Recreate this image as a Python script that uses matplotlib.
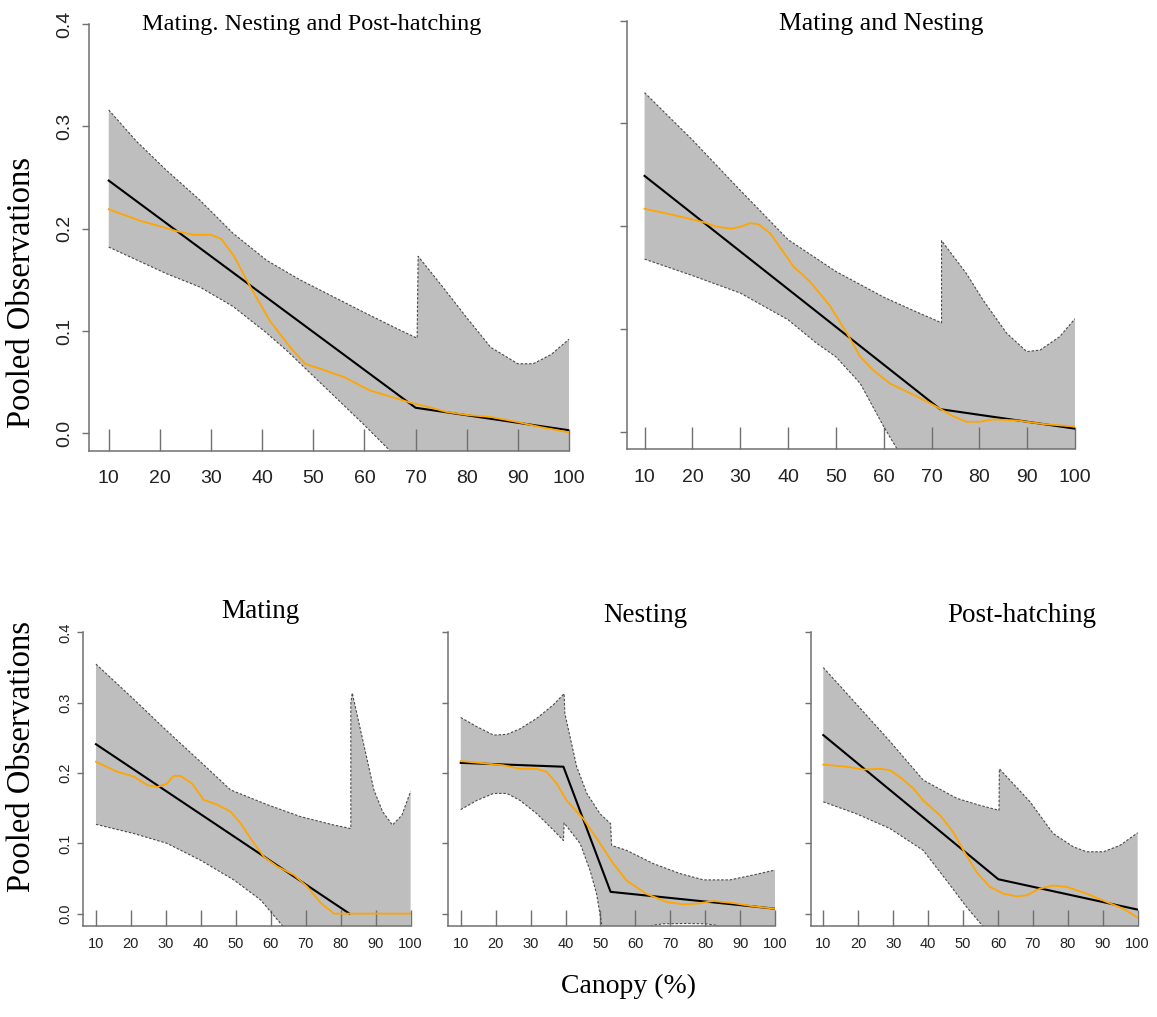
import numpy as np
import matplotlib
matplotlib.use("Agg")
import matplotlib.pyplot as plt
from matplotlib.ticker import FormatStrFormatter


# ---- Mating. Nesting and Post-hatching (top left)
mnp_fit_x = [10, 70, 100]
mnp_fit_y = [0.247, 0.025, 0.003]
mnp_smooth_x = [10, 16, 23, 26.5, 30, 32, 34.4, 37.6, 41.5, 45.5, 48.4, 52, 56, 61, 65, 69, 71.6, 76, 80, 84.7, 90, 94.5, 100]
mnp_smooth_y = [0.219, 0.208, 0.198, 0.194, 0.194, 0.190, 0.174, 0.144, 0.110, 0.084, 0.068, 0.062, 0.055, 0.042, 0.036, 0.030, 0.027, 0.021, 0.018, 0.016, 0.011, 0.006, 0.001]
mnp_upper_x = [10, 15.5, 21.3, 27.8, 34.3, 40.9, 47.4, 53.9, 60.4, 66.9, 70.3, 70.5, 75, 80, 84.7, 90, 93, 96.5, 100]
mnp_upper_y = [0.316, 0.285, 0.257, 0.228, 0.1955, 0.169, 0.150, 0.1335, 0.117, 0.101, 0.093, 0.173, 0.145, 0.113, 0.084, 0.068, 0.068, 0.077, 0.092]
mnp_lower_x = [10, 21.3, 27.8, 34.3, 40.9, 45, 50, 55, 60, 65, 70, 80, 90, 100]
mnp_lower_y = [0.182, 0.156, 0.143, 0.124, 0.098, 0.080, 0.056, 0.032, 0.008, -0.017, -0.043, -0.09, -0.12, -0.15]

# ---- Mating and Nesting (top right)
mn_fit_x = [10, 71.8, 100]
mn_fit_y = [0.249, 0.022, 0.003]
mn_smooth_x = [10, 16, 22.3, 25.1, 28.2, 30, 32.1, 33.8, 36.3, 38.7, 41.1, 44.6, 48.7, 52.3, 55.1, 57.8, 61.3, 66.2, 70.4, 74.6, 77.3, 80.1, 82.9, 87.8, 93.4, 100]
mn_smooth_y = [0.217, 0.211, 0.204, 0.1995, 0.1976, 0.1995, 0.203, 0.202, 0.193, 0.177, 0.161, 0.146, 0.123, 0.096, 0.073, 0.060, 0.047, 0.036, 0.026, 0.015, 0.0097, 0.0097, 0.012, 0.011, 0.0075, 0.005]
mn_upper_x = [10, 20, 30, 40, 50, 60, 66.2, 72.1, 72.1, 77.3, 80.8, 85.7, 89.9, 92.7, 96.8, 100]
mn_upper_y = [0.330, 0.284, 0.235, 0.187, 0.156, 0.131, 0.118, 0.106, 0.186, 0.154, 0.128, 0.096, 0.078, 0.0795, 0.0925, 0.110]
mn_lower_x = [10, 20, 30, 40, 46, 50, 55.1, 60, 62.7, 70, 80, 90, 100]
mn_lower_y = [0.168, 0.152, 0.135, 0.109, 0.086, 0.073, 0.047, 0.005, -0.016, -0.06, -0.1, -0.13, -0.16]

# ---- Mating (bottom left)
m_fit_x = [10, 82.5]
m_fit_y = [0.241, 0.0]
m_smooth_x = [10, 16, 20.8, 24.6, 27.5, 30.3, 32.2, 34.2, 37.5, 40.8, 44.7, 48.5, 51.3, 54.2, 58, 61.9, 66.6, 70.5, 74.3, 78.1, 100]
m_smooth_y = [0.216, 0.202, 0.195, 0.183, 0.180, 0.185, 0.196, 0.196, 0.185, 0.162, 0.155, 0.145, 0.129, 0.107, 0.081, 0.067, 0.055, 0.038, 0.015, 0.0, 0.0]
m_upper_x = [10, 20.8, 30.3, 39.9, 48.5, 59, 68.5, 78.1, 82.9, 82.9, 83.3, 89.5, 92, 94.8, 97.5, 100]
m_upper_y = [0.355, 0.305, 0.260, 0.216, 0.176, 0.155, 0.138, 0.126, 0.121, 0.300, 0.314, 0.176, 0.145, 0.126, 0.140, 0.174]
m_lower_x = [10, 20.8, 30.3, 39.9, 49.4, 57.1, 63.3, 70, 80, 90, 100]
m_lower_y = [0.127, 0.114, 0.100, 0.076, 0.048, 0.0195, -0.017, -0.05, -0.09, -0.1, -0.1]

# ---- Nesting (bottom middle)
n_fit_x = [10, 39.4, 52.9, 100]
n_fit_y = [0.2145, 0.209, 0.031, 0.007]
n_smooth_x = [10, 17.4, 22.2, 27, 31.8, 34.6, 37.5, 40.3, 45.1, 49.9, 53.7, 57.5, 63.2, 69, 73.7, 77.6, 82.3, 88, 93.8, 100]
n_smooth_y = [0.217, 0.2135, 0.211, 0.206, 0.206, 0.2017, 0.185, 0.161, 0.135, 0.0996, 0.071, 0.047, 0.028, 0.0166, 0.0133, 0.0142, 0.018, 0.015, 0.0104, 0.007]
n_upper_x = [10, 14.6, 19.4, 23.2, 27, 31.8, 36.5, 39.6, 39.8, 43.2, 46.1, 49.9, 52.9, 53.2, 57.5, 65.2, 72.8, 79.5, 87.1, 93.8, 100]
n_upper_y = [0.279, 0.266, 0.254, 0.255, 0.263, 0.278, 0.297, 0.313, 0.285, 0.209, 0.171, 0.142, 0.128, 0.097, 0.090, 0.071, 0.057, 0.048, 0.048, 0.055, 0.062]
n_lower_x = [10, 14.6, 19.4, 23.2, 27, 31.8, 36.5, 39.4, 39.6, 44.2, 47, 48.9, 50.4, 55, 62, 65, 68, 75, 80, 83, 88, 100]
n_lower_y = [0.148, 0.161, 0.171, 0.171, 0.161, 0.142, 0.119, 0.104, 0.129, 0.0996, 0.0617, 0.028, -0.017, -0.05, -0.03, -0.0165, -0.0145, -0.014, -0.0145, -0.0165, -0.03, -0.06]

# ---- Post-hatching (bottom right)
p_fit_x = [10, 60.1, 100]
p_fit_y = [0.254, 0.0489, 0.0057]
p_smooth_x = [10, 16.7, 21.5, 26.2, 29.1, 31.9, 35.8, 38.6, 43.4, 47.2, 50.1, 53.9, 57.7, 61.5, 65.3, 68.2, 72, 75.8, 79.7, 85.4, 91.1, 95.9, 100]
p_smooth_y = [0.212, 0.209, 0.205, 0.206, 0.204, 0.1945, 0.178, 0.161, 0.14, 0.116, 0.090, 0.059, 0.038, 0.0285, 0.0247, 0.026, 0.0356, 0.040, 0.038, 0.0285, 0.0166, 0.007, -0.0057]
p_upper_x = [10, 19.5, 29.1, 38.6, 48.2, 54.9, 60.3, 60.4, 69.2, 75.8, 81.6, 85.4, 90.2, 94.9, 100]
p_upper_y = [0.350, 0.298, 0.245, 0.190, 0.164, 0.154, 0.147, 0.206, 0.159, 0.114, 0.095, 0.088, 0.088, 0.097, 0.115]
p_lower_x = [10, 19.5, 29.1, 38.6, 45.3, 51, 55.3, 60, 70, 80, 90, 100]
p_lower_y = [0.159, 0.142, 0.121, 0.090, 0.047, 0.0095, -0.0157, -0.04, -0.08, -0.1, -0.1, -0.1]

x_ticks = [10, 20, 30, 40, 50, 60, 70, 80, 90, 100]
y_ticks = [0.0, 0.1, 0.2, 0.3, 0.4]

titles = ["Mating. Nesting and Post-hatching", "Mating and Nesting", "Mating", "Nesting", "Post-hatching"]
y_label = "Pooled Observations"
x_label = "Canopy (%)"

AXIS_GRAY = "#707070"
BAND_GRAY = "#BEBEBE"
SERIF = "Liberation Serif"
SANS = "Liberation Sans"


def draw_panel(ax, fit, smooth, upper, lower, big, show_ylabels, xleft):
    ux, uy = upper
    lx, ly = lower
    # confidence band as one polygon: upper edge then lower edge reversed
    poly_x = list(ux) + list(lx[::-1])
    poly_y = list(uy) + list(ly[::-1])
    ax.fill(poly_x, poly_y, color=BAND_GRAY, lw=0, zorder=1)
    ax.plot(ux, uy, color="#4a4a4a", lw=0.8, ls=(0, (2.2, 1.6)), zorder=2)
    ax.plot(lx, ly, color="#4a4a4a", lw=0.8, ls=(0, (2.2, 1.6)), zorder=2)

    ax.plot(fit[0], fit[1], color="black", lw=1.5, zorder=3)
    ax.plot(smooth[0], smooth[1], color="#FFA500", lw=1.3, zorder=4)

    ax.set_xlim(xleft, 100)
    ax.set_ylim(-0.017, 0.4)
    ax.set_xticks(x_ticks)
    ax.set_yticks(y_ticks)
    ax.yaxis.set_major_formatter(FormatStrFormatter("%.1f"))

    for s in ["top", "right"]:
        ax.spines[s].set_visible(False)
    for s in ["left", "bottom"]:
        ax.spines[s].set_color(AXIS_GRAY)
        ax.spines[s].set_linewidth(1.1)

    if big:
        ax.tick_params(axis="x", direction="in", length=16, width=1.0, color=AXIS_GRAY,
                       labelsize=14, pad=14)
        ax.tick_params(axis="y", direction="out", length=5, width=1.0, color=AXIS_GRAY,
                       labelsize=14, pad=6, labelrotation=90, labelleft=show_ylabels)
    else:
        ax.tick_params(axis="x", direction="in", length=11.3, width=1.0, color=AXIS_GRAY,
                       labelsize=10.5, pad=8)
        ax.tick_params(axis="y", direction="out", length=4.3, width=1.0, color=AXIS_GRAY,
                       labelsize=10.5, pad=3.5, labelrotation=90, labelleft=show_ylabels)

    for lab in ax.get_xticklabels() + ax.get_yticklabels():
        lab.set_fontfamily(SANS)
        lab.set_color("#222222")
    for lab in ax.get_yticklabels():
        lab.set_va("center")


fig = plt.figure(figsize=(11.57, 10.17), dpi=100)

ax_tl = fig.add_axes([0.0769, 0.5568, 0.4149, 0.4196])
ax_tr = fig.add_axes([0.5419, 0.5583, 0.3872, 0.4213])
ax_bl = fig.add_axes([0.0717, 0.0899, 0.2832, 0.2882])
ax_bm = fig.add_axes([0.3870, 0.0899, 0.2829, 0.2882])
ax_br = fig.add_axes([0.7007, 0.0899, 0.2826, 0.2882])

draw_panel(ax_tl, (mnp_fit_x, mnp_fit_y), (mnp_smooth_x, mnp_smooth_y),
           (mnp_upper_x, mnp_upper_y), (mnp_lower_x, mnp_lower_y), True, True, 6.14)
draw_panel(ax_tr, (mn_fit_x, mn_fit_y), (mn_smooth_x, mn_smooth_y),
           (mn_upper_x, mn_upper_y), (mn_lower_x, mn_lower_y), True, False, 6.32)
draw_panel(ax_bl, (m_fit_x, m_fit_y), (m_smooth_x, m_smooth_y),
           (m_upper_x, m_upper_y), (m_lower_x, m_lower_y), False, True, 6.28)
draw_panel(ax_bm, (n_fit_x, n_fit_y), (n_smooth_x, n_smooth_y),
           (n_upper_x, n_upper_y), (n_lower_x, n_lower_y), False, False, 6.28)
draw_panel(ax_br, (p_fit_x, p_fit_y), (p_smooth_x, p_smooth_y),
           (p_upper_x, p_upper_y), (p_lower_x, p_lower_y), False, False, 6.39)

# panel titles, placed on the figure like the composite
fig.text(0.2697, 0.9705, titles[0], family=SERIF, fontsize=17.5, ha="center", va="baseline")
fig.text(0.7615, 0.9705, titles[1], family=SERIF, fontsize=18.5, ha="center", va="baseline")
fig.text(0.2247, 0.3923, titles[2], family=SERIF, fontsize=19.5, ha="center", va="baseline")
fig.text(0.5575, 0.3884, titles[3], family=SERIF, fontsize=19.5, ha="center", va="baseline")
fig.text(0.8833, 0.3884, titles[4], family=SERIF, fontsize=19.5, ha="center", va="baseline")

fig.text(0.019, 1 - 293 / 1017, y_label, family=SERIF, fontsize=23.5, rotation=90,
         ha="center", va="center")
fig.text(0.019, 1 - 757 / 1017, y_label, family=SERIF, fontsize=23.5, rotation=90,
         ha="center", va="center")
fig.text(0.5428, 0.0236, x_label, family=SERIF, fontsize=20, ha="center", va="baseline")

fig.savefig("out.png", dpi=100, facecolor="white")
